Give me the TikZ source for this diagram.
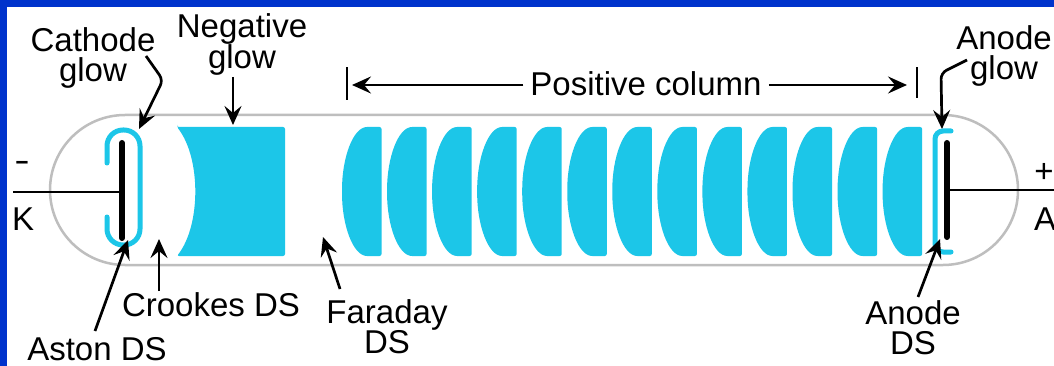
\documentclass[tikz,border=0pt]{standalone}
\usepackage{fontspec}
\setmainfont{Liberation Sans}
\usetikzlibrary{arrows.meta}

\definecolor{frameblue}{HTML}{0033CC}
\definecolor{glowcyan}{HTML}{1CC6E8}
\definecolor{tubegray}{HTML}{BEBEBE}

\tikzset{
  tube/.style={draw=tubegray, line width=2.5pt},
  glow/.style={fill=glowcyan},
  glowline/.style={draw=glowcyan, line width=5pt, line cap=round},
  electrode/.style={line width=6pt, line cap=round},
  wire/.style={line width=2pt},
  pointer/.style={line width=2.7pt, line join=round,
    -{Stealth[length=19pt,width=17pt,inset=7pt]}},
  lbl/.style={font=\fontsize{33}{30}\selectfont, align=center, inner sep=0pt},
}

\begin{document}
\begin{tikzpicture}[x=1pt, y=-1pt]
  \useasboundingbox (0,0) rectangle (1054,366);
  \clip (0,0) rectangle (1054,366);
  % frame
  \fill[frameblue] (-5,-5) rectangle (1060,372);
  \fill[white] (7,7) rectangle (1070,380);

  % glass tube
  \draw[tube, rounded corners=75pt] (50,115) rectangle (1018,265);

  % negative glow
  \fill[glow, rounded corners=2pt] (177,127) -- (285,127) -- (285,256) -- (177,256)
    .. controls (201,225) and (201,158) .. cycle;

  % striations of the positive column
  \foreach \i in {0,...,12}{
    \pgfmathsetmacro{\l}{342+45.05*\i}
    \pgfmathsetmacro{\r}{\l+39.5}
    \fill[glow, rounded corners=2pt] (\r,127) -- (\l+27,127)
      .. controls (\l+11,127) and (\l,158) .. (\l,191.5)
      .. controls (\l,225) and (\l+11,256) .. (\l+27,256) -- (\r,256) -- cycle;
  }

  % cathode and its glow
  \draw[glowline, rounded corners=16pt] (107,163) -- (107,130) -- (140,130)
    -- (140,245) -- (107,245) -- (107,217);
  \draw[wire] (13,192) -- (122,192);
  \draw[electrode] (122,143) -- (122,238);

  % anode and its glow
  \draw[glowline, rounded corners=8pt] (951,131) -- (935,131) -- (935,252) -- (951,252);
  \draw[electrode] (947,143) -- (947,237);
  \draw[wire] (947,190) -- (1054,190);

  % terminals
  \node[lbl, xscale=1.4] (minus) at (22,166) {-};
  \node[lbl, anchor=base west] (kname) at (12,230) {K};
  \node[lbl] (plus) at (1044,173) {+};
  \node[lbl, anchor=base west] (aname) at (1034,230) {A};

  % labels
  \node[lbl, anchor=north] (cathglow) at (93,27) {Cathode\\glow};
  \node[lbl, anchor=north] (negglow) at (242,13) {Negative\\glow};
  \node[lbl, anchor=base] (poscol) at (646,96) {Positive column};
  \node[lbl, anchor=north] (anodeglow) at (1004,25) {Anode\\glow};
  \node[lbl, anchor=north] (astonds) at (97,337) {Aston DS};
  \node[lbl, anchor=north] (crookesds) at (211,292) {Crookes DS};
  \node[lbl, anchor=north] (faradayds) at (387,299) {Faraday\\DS};
  \node[lbl, anchor=north] (anodeds) at (913,300) {Anode\\DS};

  % pointer ends
  \coordinate (cgtail) at (146,56);
  \coordinate (cgbend) at (163,80);
  \coordinate (cgtip) at (139,129);
  \coordinate (ngtail) at (233,77);
  \coordinate (ngtip) at (233,125);
  \coordinate (agtail) at (967,60);
  \coordinate (agbend) at (941,73);
  \coordinate (agtip) at (942,129);
  \coordinate (astail) at (95,331);
  \coordinate (astip) at (128,240);
  \coordinate (crtail) at (159,291);
  \coordinate (crtip) at (159,239);
  \coordinate (fdtail) at (340,289);
  \coordinate (fdtip) at (323,237);
  \coordinate (adtail) at (918,297);
  \coordinate (adtip) at (940,239);
  \coordinate (pcleft) at (347,85);
  \coordinate (pcright) at (917,85);

  % pointers
  \draw[pointer, rounded corners=6pt] (cgtail) -- (cgbend) -- (cgtip);
  \draw[pointer] (ngtail) -- (ngtip);
  \draw[pointer, rounded corners=6pt] (agtail) -- (agbend) -- (agtip);
  \draw[pointer] (astail) -- (astip);
  \draw[pointer] (crtail) -- (crtip);
  \draw[pointer] (fdtail) -- (fdtip);
  \draw[pointer] (adtail) -- (adtip);

  % extent of the positive column
  \draw[line width=2.7pt] ([yshift=-15pt]pcleft) -- ([yshift=18pt]pcleft);
  \draw[line width=2.7pt] ([yshift=-13pt]pcright) -- ([yshift=18pt]pcright);
  \draw[pointer] ([xshift=-7pt]poscol.west |- pcleft) -- ([xshift=5pt]pcleft);
  \draw[pointer] ([xshift=7pt]poscol.east |- pcright) -- ([xshift=-10pt]pcright);
\end{tikzpicture}
\end{document}
